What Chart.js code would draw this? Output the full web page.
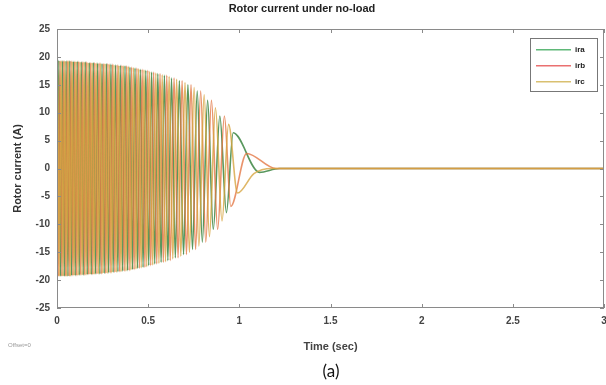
<!DOCTYPE html>
<html><head><meta charset="utf-8">
<script src="https://cdn.jsdelivr.net/npm/chart.js@4.4.1/dist/chart.umd.min.js"></script>
<style>html,body{margin:0;padding:0;background:#fff;}</style>
</head><body>
<canvas id="c" width="606" height="385"></canvas>
<script>
// ---- data ----
const seriesNames = ['ira', 'irb', 'irc'];
const xTicks = [0, 0.5, 1, 1.5, 2, 2.5, 3];
const yTicks = [-25, -20, -15, -10, -5, 0, 5, 10, 15, 20, 25];

// extreme points (time in s, current in A)
const iraT = [0.000,0.010,0.020,0.030,0.040,0.050,0.060,0.070,0.080,0.090,0.100,0.111,0.122,0.133,0.144,0.155,0.166,0.177,0.188,0.199,0.211,0.223,0.235,0.247,0.259,0.271,0.283,0.296,0.308,0.321,0.334,0.347,0.360,0.373,0.387,0.400,0.414,0.428,0.442,0.457,0.472,0.487,0.503,0.519,0.536,0.553,0.571,0.589,0.608,0.628,0.649,0.671,0.694,0.718,0.743,0.769,0.797,0.826,0.857,0.893,0.929,0.966,1.110,1.220,3.000];
const iraV = [-21.0,19.4,-19.3,19.3,-19.3,19.3,-19.3,19.3,-19.2,19.2,-19.2,19.2,-19.1,19.1,-19.1,19.1,-19.0,19.0,-19.0,19.0,-18.9,18.9,-18.9,18.8,-18.8,18.8,-18.7,18.7,-18.6,18.6,-18.5,18.5,-18.4,18.4,-18.3,18.2,-18.1,18.0,-17.9,17.8,-17.7,17.6,-17.4,17.3,-17.1,17.0,-16.8,16.7,-16.5,16.2,-16.0,15.7,-15.4,15.0,-14.5,13.9,-13.2,12.2,-10.9,9.4,-7.9,6.4,-0.7,0,0];

const irbT = [0.000,0.007,0.017,0.027,0.037,0.047,0.057,0.067,0.077,0.087,0.097,0.107,0.118,0.129,0.140,0.151,0.162,0.173,0.184,0.195,0.207,0.219,0.231,0.243,0.255,0.267,0.279,0.292,0.304,0.317,0.330,0.343,0.356,0.369,0.382,0.396,0.409,0.423,0.438,0.452,0.467,0.482,0.498,0.514,0.530,0.547,0.565,0.583,0.602,0.621,0.642,0.664,0.686,0.710,0.735,0.760,0.788,0.816,0.847,0.881,0.918,0.953,1.040,1.200,3.000];
const irbV = [20.5,-19.3,19.3,-19.3,19.3,-19.3,19.3,-19.3,19.3,-19.2,19.2,-19.2,19.2,-19.1,19.1,-19.1,19.1,-19.0,19.0,-19.0,19.0,-18.9,18.9,-18.9,18.8,-18.8,18.8,-18.7,18.7,-18.6,18.6,-18.5,18.5,-18.4,18.4,-18.3,18.2,-18.1,18.0,-17.9,17.8,-17.7,17.6,-17.4,17.3,-17.1,17.0,-16.8,16.7,-16.5,16.2,-16.0,15.7,-15.4,15.0,-14.5,13.9,-13.2,12.2,-10.9,9.4,-6.8,2.7,0,0];

const ircT = [0.000,0.003,0.013,0.023,0.033,0.043,0.053,0.063,0.073,0.083,0.093,0.104,0.115,0.126,0.137,0.148,0.159,0.170,0.181,0.192,0.203,0.215,0.227,0.239,0.251,0.263,0.275,0.287,0.300,0.312,0.325,0.338,0.351,0.364,0.378,0.391,0.405,0.419,0.433,0.447,0.462,0.477,0.492,0.508,0.525,0.542,0.559,0.577,0.595,0.615,0.635,0.656,0.679,0.702,0.726,0.752,0.778,0.807,0.836,0.869,0.905,0.941,0.990,1.080,1.180,3.000];
const ircV = [15.0,19.3,-19.3,19.3,-19.3,19.3,-19.3,19.3,-19.3,19.2,-19.2,19.2,-19.2,19.1,-19.1,19.1,-19.1,19.0,-19.0,19.0,-19.0,18.9,-18.9,18.9,-18.8,18.8,-18.8,18.7,-18.7,18.6,-18.6,18.5,-18.5,18.4,-18.4,18.3,-18.2,18.1,-18.0,17.9,-17.8,17.7,-17.6,17.4,-17.3,17.1,-17.0,16.8,-16.7,16.5,-16.2,16.0,-15.7,15.4,-15.0,14.5,-13.9,13.2,-12.2,10.9,-9.4,7.9,-4.4,-0.9,0,0];

const seriesColors = ['rgba(70,140,75,0.9)', 'rgba(228,120,70,0.8)', 'rgba(215,165,65,0.8)'];
const legendColors = ['#5fb878', '#ea7070', '#d9c070'];

// ---- build datasets ----
function pts(T, V) { return T.map((t, i) => ({ x: t, y: V[i] })); }
const datasets = [pts(iraT, iraV), pts(irbT, irbV), pts(ircT, ircV)].map((d, i) => ({
  label: seriesNames[i], data: d, borderColor: seriesColors[i], backgroundColor: seriesColors[i],
  borderWidth: 1.6, pointRadius: 0, fill: false, cubicInterpolationMode: 'monotone', order: 3 - i
}));

const frame = {
  id: 'frame',
  afterDatasetsDraw(chart) {
    const { ctx, chartArea: a, scales: { x, y } } = chart;
    ctx.save();
    ctx.strokeStyle = '#8a8a8a'; ctx.lineWidth = 1;
    ctx.strokeRect(Math.round(a.left) + 0.5, Math.round(a.top) + 0.5, Math.round(a.right - a.left) - 1, Math.round(a.bottom - a.top) - 1);
    ctx.beginPath();
    xTicks.forEach(v => { const px = Math.round(x.getPixelForValue(v)) + 0.5;
      ctx.moveTo(px, a.bottom); ctx.lineTo(px, a.bottom - 4);
      ctx.moveTo(px, a.top); ctx.lineTo(px, a.top + 4); });
    yTicks.forEach(v => { const py = Math.round(y.getPixelForValue(v)) + 0.5;
      ctx.moveTo(a.left, py); ctx.lineTo(a.left + 4, py);
      ctx.moveTo(a.right, py); ctx.lineTo(a.right - 4, py); });
    ctx.stroke();
    ctx.restore();
  },
  afterDraw(chart) {
    const { ctx } = chart;
    ctx.save();
    // legend box
    const bx = 530, by = 38, bw = 67, bh = 53;
    ctx.fillStyle = '#fff'; ctx.fillRect(bx, by, bw, bh);
    ctx.strokeStyle = '#777'; ctx.lineWidth = 1; ctx.strokeRect(bx + 0.5, by + 0.5, bw, bh);
    chart.data.datasets.forEach((ds, i) => {
      const ry = by + 11 + i * 16;
      ctx.fillStyle = legendColors[i];
      ctx.fillRect(bx + 6, ry, 35, 1.5);
      ctx.fillStyle = '#222'; ctx.font = 'bold 8px "Liberation Sans", Arial'; ctx.textBaseline = 'middle'; ctx.textAlign = 'left';
      ctx.fillText(ds.label, bx + 45, ry + 0.5);
    });
    // small notes
    ctx.fillStyle = '#999'; ctx.font = '6px "Liberation Sans", Arial'; ctx.textAlign = 'left'; ctx.textBaseline = 'middle';
    ctx.fillText('Offset=0', 8, 345);
    ctx.fillStyle = '#111'; ctx.font = '17px Lato, "Open Sans", sans-serif'; ctx.textAlign = 'center';
    ctx.fillText('(a)', 331, 372);
    ctx.restore();
  }
};

new Chart(document.getElementById('c'), {
  type: 'line',
  data: { datasets },
  options: {
    responsive: false, animation: false, devicePixelRatio: 1,
    layout: { padding: { top: 0, right: 2, bottom: 0, left: 0 } },
    plugins: {
      legend: { display: false }, tooltip: { enabled: false },
      title: { display: true, text: 'Rotor current under no-load', color: '#222',
        font: { family: '"Liberation Sans", Arial', size: 11, weight: 'bold' }, padding: { top: 2, bottom: 13.8 } }
    },
    scales: {
      x: {
        type: 'linear', min: 0, max: 3,
        afterBuildTicks: s => { s.ticks = xTicks.map(v => ({ value: v })); },
        afterFit: s => { s.height = 77; s.paddingRight = 0; s.paddingLeft = 0; },
        grid: { display: false, drawTicks: false },
        border: { display: false },
        ticks: { color: '#444', padding: 7, maxRotation: 0, callback: v => String(v),
          font: { family: '"Liberation Sans", Arial', size: 10, weight: 'bold' } },
        title: { display: true, text: 'Time (sec)', color: '#444', padding: { top: 0, bottom: 31.4 },
          font: { family: '"Liberation Sans", Arial', size: 11, weight: 'bold' } }
      },
      y: {
        type: 'linear', min: -25, max: 25,
        afterBuildTicks: s => { s.ticks = yTicks.map(v => ({ value: v })); },
        afterFit: s => { s.width = 57; },
        grid: { display: false, drawTicks: false },
        border: { display: false },
        ticks: { color: '#444', padding: 7, callback: v => String(v),
          font: { family: '"Liberation Sans", Arial', size: 10, weight: 'bold' } },
        title: { display: true, text: 'Rotor current (A)', color: '#333', padding: { top: 11.4, bottom: 0 },
          font: { family: '"Liberation Sans", Arial', size: 11, weight: 'bold' } }
      }
    }
  },
  plugins: [frame]
});
</script>
</body></html>
